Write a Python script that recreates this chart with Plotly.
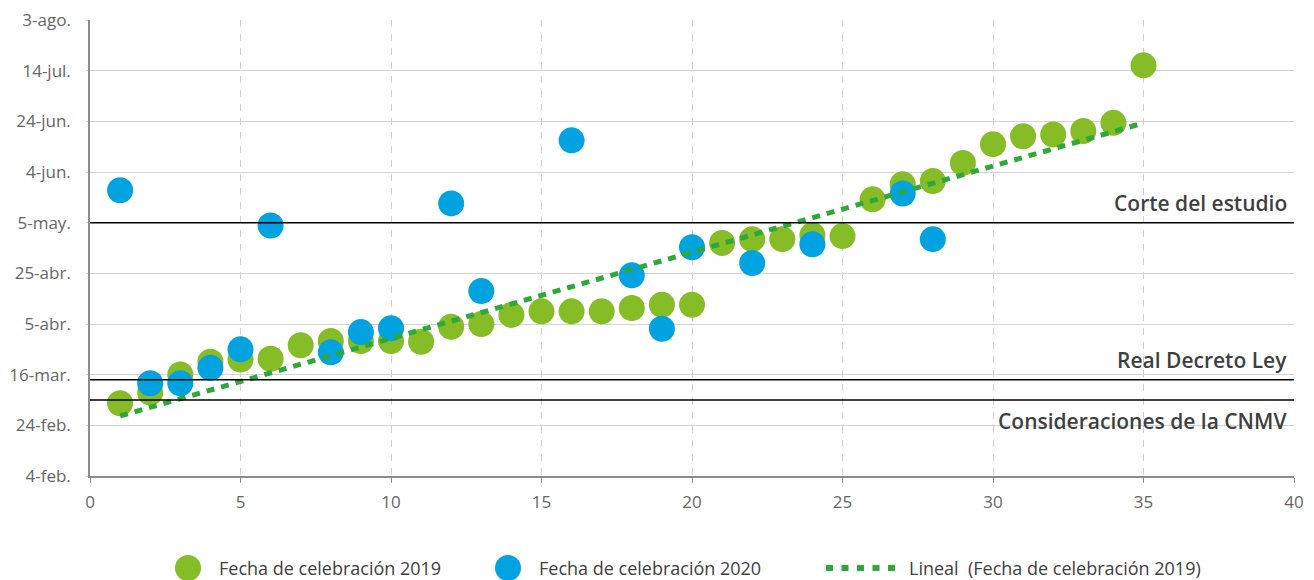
import numpy as np
import plotly.graph_objects as go

# ---- data (y values: day of year 2019) ----
x_2019 = list(range(1, 36))
y_2019 = [63.7, 67.9, 75.1, 80.1, 81.0, 81.3, 86.6, 88.3, 88.3, 88.3,
          88.0, 93.9, 95.0, 98.6, 100.0, 100.0, 100.0, 101.3, 102.6, 102.6,
          127.0, 128.5, 128.5, 130.1, 129.7, 144.2, 150.2, 151.4, 158.6, 166.0,
          169.1, 169.8, 171.2, 174.4, 197.1]
x_2020 = [1, 2, 3, 4, 5, 6, 8, 9, 10, 12, 13, 16, 18, 19, 20, 22, 24, 27, 28]
y_2020 = [147.8, 71.6, 71.6, 77.7, 85.0, 133.9, 83.8, 91.8, 93.3, 142.6,
          108.0, 167.5, 114.2, 93.1, 125.3, 119.1, 126.5, 146.5, 128.5]

y_tickvals = [35, 55, 75, 95, 115, 135, 155, 175, 195, 215]
y_ticktext = ["4-feb.", "24-feb.", "16-mar.", "5-abr.", "25-abr.", "5-may.",
              "4-jun.", "24-jun.", "14-jul.", "3-ago."]
x_tickvals = [0, 5, 10, 15, 20, 25, 30, 35, 40]

ref_days = [135, 73, 65]
ref_labels = ["Corte del estudio", "Real Decreto Ley", "Consideraciones de la CNMV"]
ref_shift = [20, 20, -21]

legend_labels = ["Fecha de celebración 2019", "Fecha de celebración 2020",
                 "Lineal  (Fecha de celebración 2019)"]

GREEN = "#86BC25"
BLUE = "#00A3E0"
TREND = "#2FA83A"
FONT = "Open Sans"

# linear trendline of 2019 series
coef = np.polyfit(x_2019, y_2019, 1)
trend_x = [x_2019[0], x_2019[-1]]
trend_y = [float(np.polyval(coef, v)) for v in trend_x]

fig = go.Figure()
fig.add_trace(go.Scatter(x=x_2019, y=y_2019, mode="markers",
                         marker=dict(size=26, color=GREEN),
                         name=legend_labels[0], showlegend=False))
fig.add_trace(go.Scatter(x=x_2020, y=y_2020, mode="markers",
                         marker=dict(size=26, color=BLUE),
                         name=legend_labels[1], showlegend=False))
fig.add_trace(go.Scatter(x=trend_x, y=trend_y, mode="lines",
                         line=dict(color=TREND, width=5, dash="8px,7px"),
                         name=legend_labels[2], showlegend=False))

shapes = []
annotations = []
for d, lab, sh in zip(ref_days, ref_labels, ref_shift):
    shapes.append(dict(type="line", xref="paper", yref="y", x0=0, x1=1, y0=d, y1=d,
                       line=dict(color="#000000", width=1.5), layer="above"))
    annotations.append(dict(xref="paper", yref="y", x=0.9955, y=d, yshift=sh,
                            text=lab, showarrow=False, xanchor="right", yanchor="middle",
                            font=dict(family=FONT, size=21, color="#3f3f3f", weight=600)))

# custom legend (paper coordinates)
L = 90.0
W = 1204.0
T = 476.0
H = 456.0
def px(v):
    return (v - L) / W
def py(v):
    return (T - v) / H

ly = py(568)
for cx, col in [(188, GREEN), (508, BLUE)]:
    shapes.append(dict(type="circle", xref="paper", yref="paper",
                       xsizemode="pixel", ysizemode="pixel",
                       xanchor=px(cx), yanchor=ly, x0=-13, x1=13, y0=-13, y1=13,
                       fillcolor=col, line=dict(width=0)))
shapes.append(dict(type="line", xref="paper", yref="paper",
                   x0=px(826), x1=px(895), y0=ly, y1=ly,
                   line=dict(color=TREND, width=6, dash="7px,8.5px")))
for tx, lab in zip([217, 537, 907], legend_labels):
    annotations.append(dict(xref="paper", yref="paper", x=px(tx), y=ly,
                            text=lab, showarrow=False, xanchor="left", yanchor="middle",
                            font=dict(family=FONT, size=18, color="#404040")))

fig.update_layout(
    width=1314, height=580,
    margin=dict(l=90, r=20, t=20, b=104, autoexpand=False),
    paper_bgcolor="white", plot_bgcolor="white",
    showlegend=False,
    shapes=shapes, annotations=annotations,
    font=dict(family=FONT, size=17, color="#666666"),
)
fig.update_xaxes(range=[0, 40], tickvals=x_tickvals, showgrid=True, automargin=False,
                 gridcolor="#D0D0D0", gridwidth=1, griddash="7px,7px",
                 showline=True, linecolor="#8C8C8C", linewidth=1.5,
                 ticks="outside", ticklen=5, tickcolor="#8C8C8C",
                 ticklabelstandoff=5, zeroline=False,
                 tickfont=dict(family=FONT, size=17, color="#666666"))
fig.update_yaxes(range=[35, 215], tickvals=y_tickvals, ticktext=y_ticktext,
                 showgrid=True, automargin=False, gridcolor="#D3D3D3", gridwidth=1.2,
                 showline=True, linecolor="#8C8C8C", linewidth=1.5,
                 ticks="outside", ticklen=2, tickcolor="#D3D3D3",
                 ticklabelstandoff=12, zeroline=False,
                 tickfont=dict(family=FONT, size=17, color="#666666"))

fig.write_html("out.html", config={"displayModeBar": False},
               post_script="document.body.style.margin='0px';")
